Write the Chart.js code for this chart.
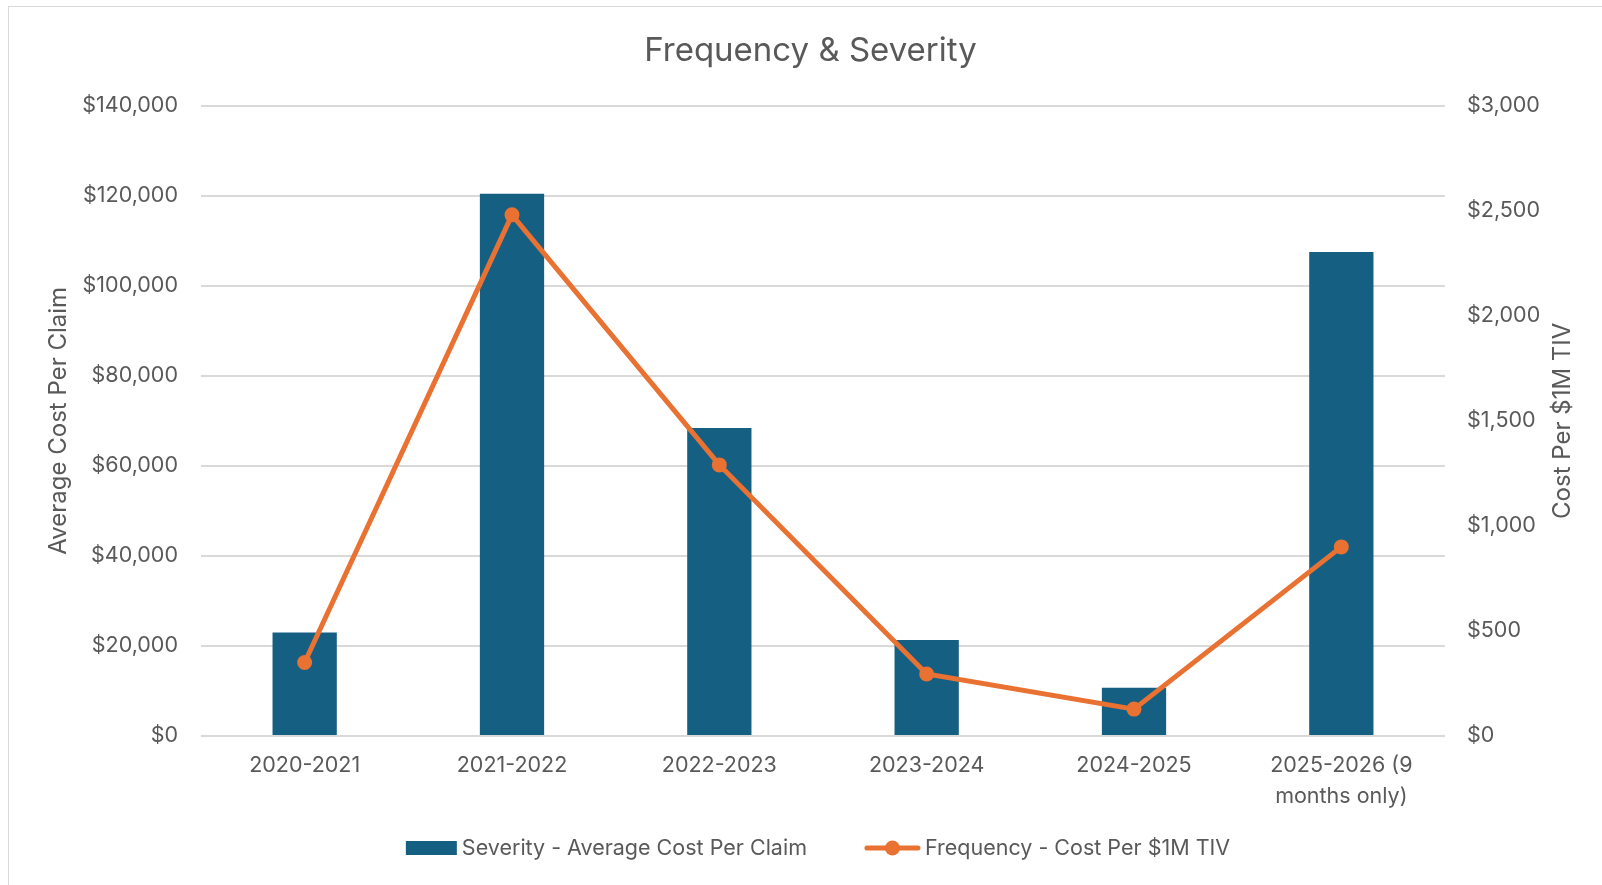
<!DOCTYPE html>
<html>
<head>
<meta charset="utf-8">
<script src="https://cdn.jsdelivr.net/npm/chart.js@4"></script>
<style>
  html, body { margin: 0; padding: 0; background: #ffffff; }
  #wrap { position: relative; width: 1602px; height: 885px; overflow: hidden; }
  #frame { position: absolute; left: 8px; top: 6px; width: 1610px; height: 900px; border: 1px solid #D9D9D9; box-sizing: border-box; pointer-events: none; }
  canvas { position: absolute; left: 0; top: 0; }
</style>
</head>
<body>
<div id="wrap">
  <div id="frame"></div>
  <canvas id="chart" width="1602" height="885"></canvas>
</div>
<script>
// Policy years shown on the category axis
const categories = ['2020-2021', '2021-2022', '2022-2023', '2023-2024', '2024-2025', ['2025-2026 (9', 'months only)']];
// Severity: average cost per claim (left axis)
const severity = [23000, 120400, 68400, 21300, 10700, 107500];
// Frequency: cost per $1M TIV (right axis)
const frequency = [350, 2480, 1290, 295, 128, 900];
// Axis ranges and tick steps
const leftTicks = { max: 140000, step: 20000 };
const rightTicks = { max: 3000, step: 500 };
const rightTitle = 'Cost Per $1M TIV';

const BLUE = '#156082';
const ORANGE = '#E97132';
const TEXT = '#595959';
const GRID = '#D9D9D9';
const FONT = 'Inter, "Liberation Sans", Arial, sans-serif';

const money = v => '$' + Number(v).toLocaleString('en-US');

// Right-hand axis title, read bottom-to-top like the left one
const rightTitlePlugin = {
  id: 'rightTitle',
  afterDraw(chart) {
    const s = chart.scales.y1;
    const a = chart.chartArea;
    const ctx = chart.ctx;
    ctx.save();
    ctx.translate(s.right - 14, (a.top + a.bottom) / 2);
    ctx.rotate(-Math.PI / 2);
    ctx.fillStyle = TEXT;
    ctx.font = '24px ' + FONT;
    ctx.textAlign = 'center';
    ctx.textBaseline = 'middle';
    ctx.fillText(rightTitle, 0, 0);
    ctx.restore();
  }
};

// Bottom legend: bar block, then line-with-marker, built from the datasets
const legendPlugin = {
  id: 'bottomLegend',
  afterDraw(chart) {
    const ctx = chart.ctx;
    const cy = 848;
    const centerX = 818;
    const items = chart.data.datasets.slice().sort((a, b) => b.order - a.order);
    ctx.save();
    ctx.font = '21.5px ' + FONT;
    ctx.textBaseline = 'middle';
    ctx.textAlign = 'left';
    const swW = [51, 55];
    const gapText = 5;
    const gapItem = 58;
    const widths = items.map((ds, i) => swW[i] + gapText + ctx.measureText(ds.label).width);
    const total = widths.reduce((s, w) => s + w, 0) + gapItem * (items.length - 1);
    let x = centerX - total / 2;
    items.forEach((ds, i) => {
      if (ds.type === 'bar') {
        ctx.fillStyle = ds.backgroundColor;
        ctx.fillRect(x, cy - 7, swW[i], 14);
      } else {
        ctx.strokeStyle = ds.borderColor;
        ctx.lineWidth = ds.borderWidth;
        ctx.lineCap = 'round';
        ctx.beginPath();
        ctx.moveTo(x + 2, cy); ctx.lineTo(x + swW[i] - 2, cy);
        ctx.stroke();
        ctx.fillStyle = ds.pointBackgroundColor;
        ctx.beginPath();
        ctx.arc(x + swW[i] / 2, cy, ds.pointRadius, 0, Math.PI * 2);
        ctx.fill();
      }
      ctx.fillStyle = TEXT;
      ctx.fillText(ds.label, x + swW[i] + gapText, cy + 1);
      x += widths[i] + gapItem;
    });
    ctx.restore();
  }
};

new Chart(document.getElementById('chart'), {
  data: {
    labels: categories,
    datasets: [
      {
        type: 'line',
        label: 'Frequency - Cost Per $1M TIV',
        data: frequency,
        yAxisID: 'y1',
        borderColor: ORANGE,
        backgroundColor: ORANGE,
        borderWidth: 5,
        pointRadius: 7.5,
        pointHoverRadius: 7.5,
        pointBackgroundColor: ORANGE,
        pointBorderWidth: 0,
        tension: 0,
        order: 0
      },
      {
        type: 'bar',
        label: 'Severity - Average Cost Per Claim',
        data: severity,
        yAxisID: 'y',
        backgroundColor: BLUE,
        borderWidth: 0,
        barPercentage: 0.62,
        categoryPercentage: 0.5,
        order: 1
      }
    ]
  },
  options: {
    responsive: false,
    animation: false,
    devicePixelRatio: 1,
    layout: { padding: { left: 44, right: 25, top: 0, bottom: 57 } },
    plugins: {
      title: {
        display: true,
        text: 'Frequency & Severity',
        color: TEXT,
        font: { family: FONT, size: 33, weight: 'normal', lineHeight: 1.2 },
        padding: { top: 31, bottom: 35 }
      },
      legend: { display: false },
      tooltip: { enabled: false }
    },
    scales: {
      x: {
        grid: { display: false, drawTicks: false },
        border: { display: false },
        ticks: {
          color: TEXT,
          font: { family: FONT, size: 21.5, lineHeight: 1.45 },
          padding: 14,
          maxRotation: 0,
          autoSkip: false
        },
        afterFit(scale) { scale.height = 92; }
      },
      y: {
        position: 'left',
        min: 0,
        max: leftTicks.max,
        grid: { color: GRID, lineWidth: 2, drawTicks: false },
        border: { display: false },
        ticks: {
          stepSize: leftTicks.step,
          color: TEXT,
          font: { family: FONT, size: 21.5 },
          padding: 23,
          callback: v => money(v)
        },
        title: {
          display: true,
          text: 'Average Cost Per Claim',
          color: TEXT,
          font: { family: FONT, size: 24, lineHeight: 1.2 },
          padding: { top: 0, bottom: 0 }
        },
        afterFit(scale) { scale.width = 157; }
      },
      y1: {
        position: 'right',
        min: 0,
        max: rightTicks.max,
        grid: { display: false, drawTicks: false },
        border: { display: false },
        ticks: {
          stepSize: rightTicks.step,
          color: TEXT,
          font: { family: FONT, size: 21.5 },
          padding: 22,
          callback: v => money(v)
        },
        afterFit(scale) { scale.width = 132; }
      }
    }
  },
  plugins: [rightTitlePlugin, legendPlugin]
});
</script>
</body>
</html>
